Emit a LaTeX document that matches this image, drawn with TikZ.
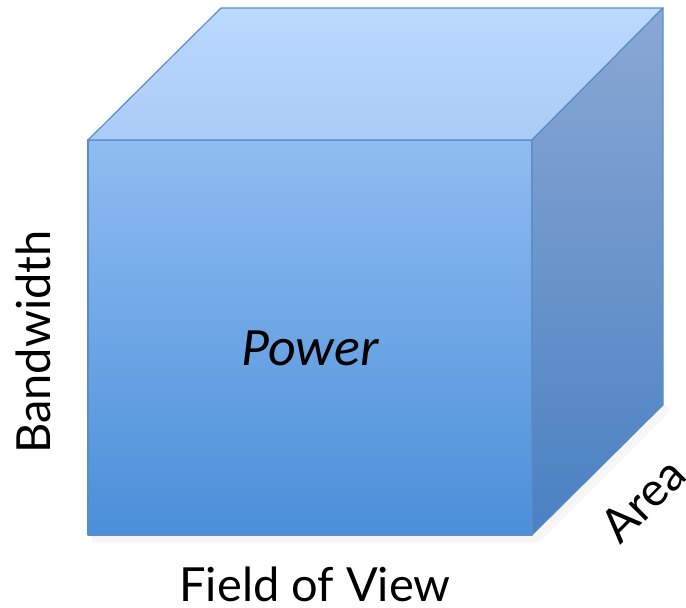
\documentclass[tikz,border=0pt]{standalone}
\usepackage{fontspec}
\setmainfont{Lato}
\newfontfamily\powerfont{Carlito}
\usetikzlibrary{shadings}
\definecolor{edgeblue}{HTML}{5B8DC9}
\definecolor{frontTop}{HTML}{90BCF1}
\definecolor{frontBot}{HTML}{4A8FD9}
\definecolor{topTop}{HTML}{BCD9FF}
\definecolor{topBot}{HTML}{A9CBF5}
\definecolor{sideTop}{HTML}{8AA8D4}
\definecolor{sideBot}{HTML}{4A80C2}
\tikzset{
  face/.style={draw=edgeblue, line width=1.2pt, line join=round},
  lbl/.style={font=\fontsize{47}{52}\selectfont, text=black, inner sep=0pt},
}
\begin{document}
\begin{tikzpicture}[x=1pt,y=-1pt]
\useasboundingbox (0,0) rectangle (686,608);
% corners
\coordinate (ftl) at (88,140);
\coordinate (ftr) at (532,140);
\coordinate (fbr) at (532,535);
\coordinate (fbl) at (88,535);
\coordinate (btl) at (221,8);
\coordinate (btr) at (663,8);
\coordinate (bbr) at (663,405);
% soft shadow
\fill[black,opacity=0.04] (92,535) -- (534,535) -- (665,405) -- (668,408) -- (536,540) -- (92,540) -- cycle;
\fill[black,opacity=0.03] (92,540) -- (536,540) -- (668,408) -- (670,411) -- (538,543) -- (92,543) -- cycle;
% faces
\shade[top color=frontTop, bottom color=frontBot] (ftl) rectangle (fbr);
\draw[face] (ftl) rectangle (fbr);
\shade[top color=topTop, bottom color=topBot] (ftl) -- (btl) -- (btr) -- (ftr) -- cycle;
\draw[face] (ftl) -- (btl) -- (btr) -- (ftr) -- cycle;
\shade[top color=sideTop, bottom color=sideBot] (ftr) -- (btr) -- (bbr) -- (fbr) -- cycle;
\draw[face] (ftr) -- (btr) -- (bbr) -- (fbr) -- cycle;
% labels
\node[inner sep=0pt, font=\powerfont\itshape\fontsize{54}{60}\selectfont] (power) at (310,348) {Power};
\node[lbl, rotate=90] (bw) at (33,342) {Bandwidth};
\node[lbl] (fov) at (315,584) {Field of View};
\node[lbl, rotate=45] (area) at (643,500) {Area};
\end{tikzpicture}
\end{document}
